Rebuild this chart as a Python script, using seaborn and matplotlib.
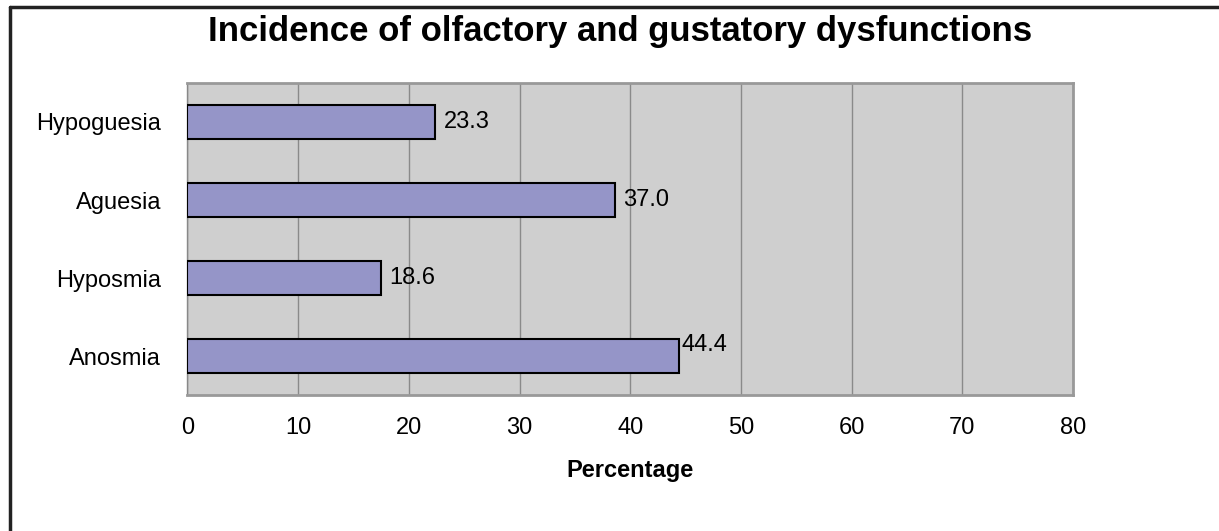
import matplotlib
matplotlib.use("Agg")
import matplotlib.pyplot as plt
import seaborn as sns
import pandas as pd
from matplotlib.lines import Line2D

# data (top to bottom)
symptoms = ["Hypoguesia", "Aguesia", "Hyposmia", "Anosmia"]
bar_len = [22.4, 38.6, 17.5, 44.4]          # where the bars end
value_labels = ["23.3", "37.0", "18.6", "44.4"]  # printed numbers
xticks = [0, 10, 20, 30, 40, 50, 60, 70, 80]

df = pd.DataFrame({"Symptom": symptoms, "Percentage": bar_len})

sns.set_style("white")
plt.rcParams["font.family"] = ["Liberation Sans", "DejaVu Sans"]
plt.rcParams["text.color"] = "black"
plt.rcParams["xtick.labelcolor"] = "black"
plt.rcParams["ytick.labelcolor"] = "black"
plt.rcParams["axes.labelcolor"] = "black"

fig = plt.figure(figsize=(12.19, 5.31), dpi=100)
ax = fig.add_axes([0.1538, 0.2561, 0.7264, 0.5876])

sns.barplot(data=df, x="Percentage", y="Symptom", orient="h", ax=ax,
            color="#9595c8", saturation=1, width=0.44,
            edgecolor="black", linewidth=1.5, zorder=3)

ax.set_facecolor("#cfcfcf")
ax.set_xlim(0, 80)
ax.set_ylim(3.5, -0.5)
ax.set_xticks(xticks)
ax.set_xticklabels([str(t) for t in xticks], fontsize=17)
ax.xaxis.grid(True, color="#8a8a8a", linewidth=1, zorder=0)
ax.set_axisbelow(True)

# category ticks sit on the boundaries, labels in the middle
ax.set_yticks(range(len(symptoms)))
ax.set_yticklabels(symptoms, fontsize=17)
ax.set_yticks([i - 0.5 for i in range(len(symptoms) + 1)], minor=True)
ax.tick_params(axis="y", which="major", length=0, pad=19)
ax.tick_params(axis="y", which="minor", length=6, color="#888888", width=1)
ax.tick_params(axis="x", length=6, color="#888888", width=1, pad=10)

for side in ["top", "right", "bottom"]:
    ax.spines[side].set_color("#999999")
    ax.spines[side].set_linewidth(2)
ax.spines["left"].set_color("#888888")
ax.spines["left"].set_linewidth(1)

for i, (v, lab) in enumerate(zip(bar_len, value_labels)):
    dx, dy = (6, 0) if i < len(symptoms) - 1 else (1.5, 8)
    ax.annotate(lab, (v, i), xytext=(dx, dy), textcoords="offset points",
                va="center", ha="left", fontsize=17)

ax.set_ylabel("")
ax.set_xlabel("Percentage", fontsize=17, fontweight="bold", labelpad=14)

fig.suptitle("Incidence of olfactory and gustatory dysfunctions",
             fontsize=25, fontweight="bold", x=0.5086, y=0.94, va="center")

# frame around the chart (only top and left edge show in the picture)
fig.add_artist(Line2D([0.008, 1.0], [0.987, 0.987], color="#222222", linewidth=2.5,
                      transform=fig.transFigure))
fig.add_artist(Line2D([0.008, 0.008], [0.0, 0.987], color="#222222", linewidth=2.5,
                      transform=fig.transFigure))

fig.savefig("out.png", dpi=100)
